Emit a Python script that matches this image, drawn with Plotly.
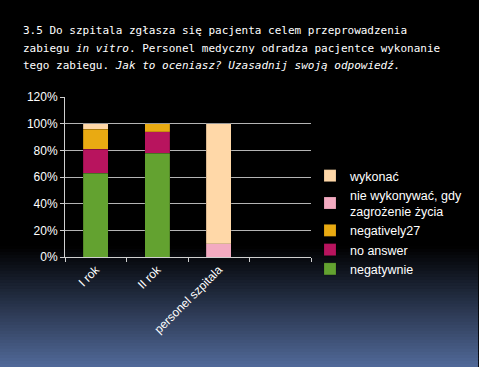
import plotly.graph_objects as go

categories = ["I rok", "II rok", "personel szpitala", " "]
negatywnie = [63, 78, None, None]
no_answer = [18, 16, None, None]
negatively27 = [15, 6, None, None]
nie_wykonywac = [None, None, 10, None]
wykonac = [4, None, 90, None]

series = [
    ("negatywnie", negatywnie, "#63a230"),
    ("no answer", no_answer, "#b8145e"),
    ("negatively27", negatively27, "#e9aa12"),
    ("nie wykonywać, gdy<br>zagrożenie życia", nie_wykonywac, "#f3aac1"),
    ("wykonać", wykonac, "#ffd8a8"),
]

W, H = 479, 367
mt, mb, ml, mr = 97, 110, 65, 166

fig = go.Figure()
for name, vals, col in series:
    fig.add_trace(go.Bar(
        x=categories, y=vals, name=name, width=0.4,
        marker=dict(color=col, line=dict(width=0.5, color="rgba(0,0,0,0.3)")),
    ))

# background gradient (bottom of page)
shapes = []
ph = H - mt - mb
pw = W - ml - mr
start_px, end_px = 246, H
n = 40
top = (0, 0, 0)
bot = (82, 106, 154)
for i in range(n):
    p0 = start_px + (end_px - start_px) * i / n
    p1 = start_px + (end_px - start_px) * (i + 1) / n + 0.5
    t = (i + 0.5) / n
    c = tuple(int(top[k] + (bot[k] - top[k]) * t) for k in range(3))
    y0 = (H - mb - p0) / ph
    y1 = (H - mb - p1) / ph
    shapes.append(dict(type="rect", xref="paper", yref="paper",
                       x0=-ml / pw - 0.01, x1=(W - ml) / pw + 0.01,
                       y0=y1, y1=y0, fillcolor="rgb(%d,%d,%d)" % c,
                       line=dict(width=0), layer="below"))

title_lines = [
    "3.5 Do szpitala zgłasza się pacjenta celem przeprowadzenia",
    "zabiegu <i>in vitro</i>. Personel medyczny odradza pacjentce wykonanie",
    "tego zabiegu. <i>Jak to oceniasz? Uzasadnij swoją odpowiedź.</i>",
]
annotations = []
for i, line in enumerate(title_lines):
    annotations.append(dict(
        text=line, xref="paper", yref="paper", showarrow=False,
        x=(21 - ml) / pw, xanchor="left",
        y=(H - mb - (31 + 17.4 * i)) / ph, yanchor="middle",
        font=dict(family="DejaVu Sans Mono", size=11, color="#ffffff"),
    ))

fig.update_layout(
    width=W, height=H,
    margin=dict(l=ml, r=mr, t=mt, b=mb),
    paper_bgcolor="#000000", plot_bgcolor="#000000",
    barmode="stack",
    font=dict(family="Liberation Sans", size=12, color="#ffffff"),
    showlegend=True,
    legend=dict(traceorder="reversed", x=(312 - ml) / pw, xanchor="left",
                y=0.60, yanchor="top",
                bgcolor="rgba(0,0,0,0)", font=dict(size=12.5, color="#ffffff"),
                itemwidth=30),
    shapes=shapes,
    annotations=annotations,
    xaxis=dict(type="category", categoryorder="array", categoryarray=categories,
               range=[-0.5, 3.5], tickangle=-45, tickson="boundaries",
               ticks="outside", ticklen=4, tickcolor="#d0d0d0",
               showline=True, linecolor="#d0d0d0", linewidth=1,
               showgrid=False, tickfont=dict(size=12, color="#ffffff")),
    yaxis=dict(range=[0, 120], dtick=20, ticksuffix="%", ticks="outside", ticklen=4,
               tickcolor="#d0d0d0", showline=True, linecolor="#d0d0d0", linewidth=1,
               gridcolor="#b4b4b4", gridwidth=1, zeroline=False,
               tickfont=dict(size=12, color="#ffffff")),
)

fig.write_html("out.html", config={"displayModeBar": False},
               post_script="document.body.style.margin='0';document.body.style.background='#000';")
